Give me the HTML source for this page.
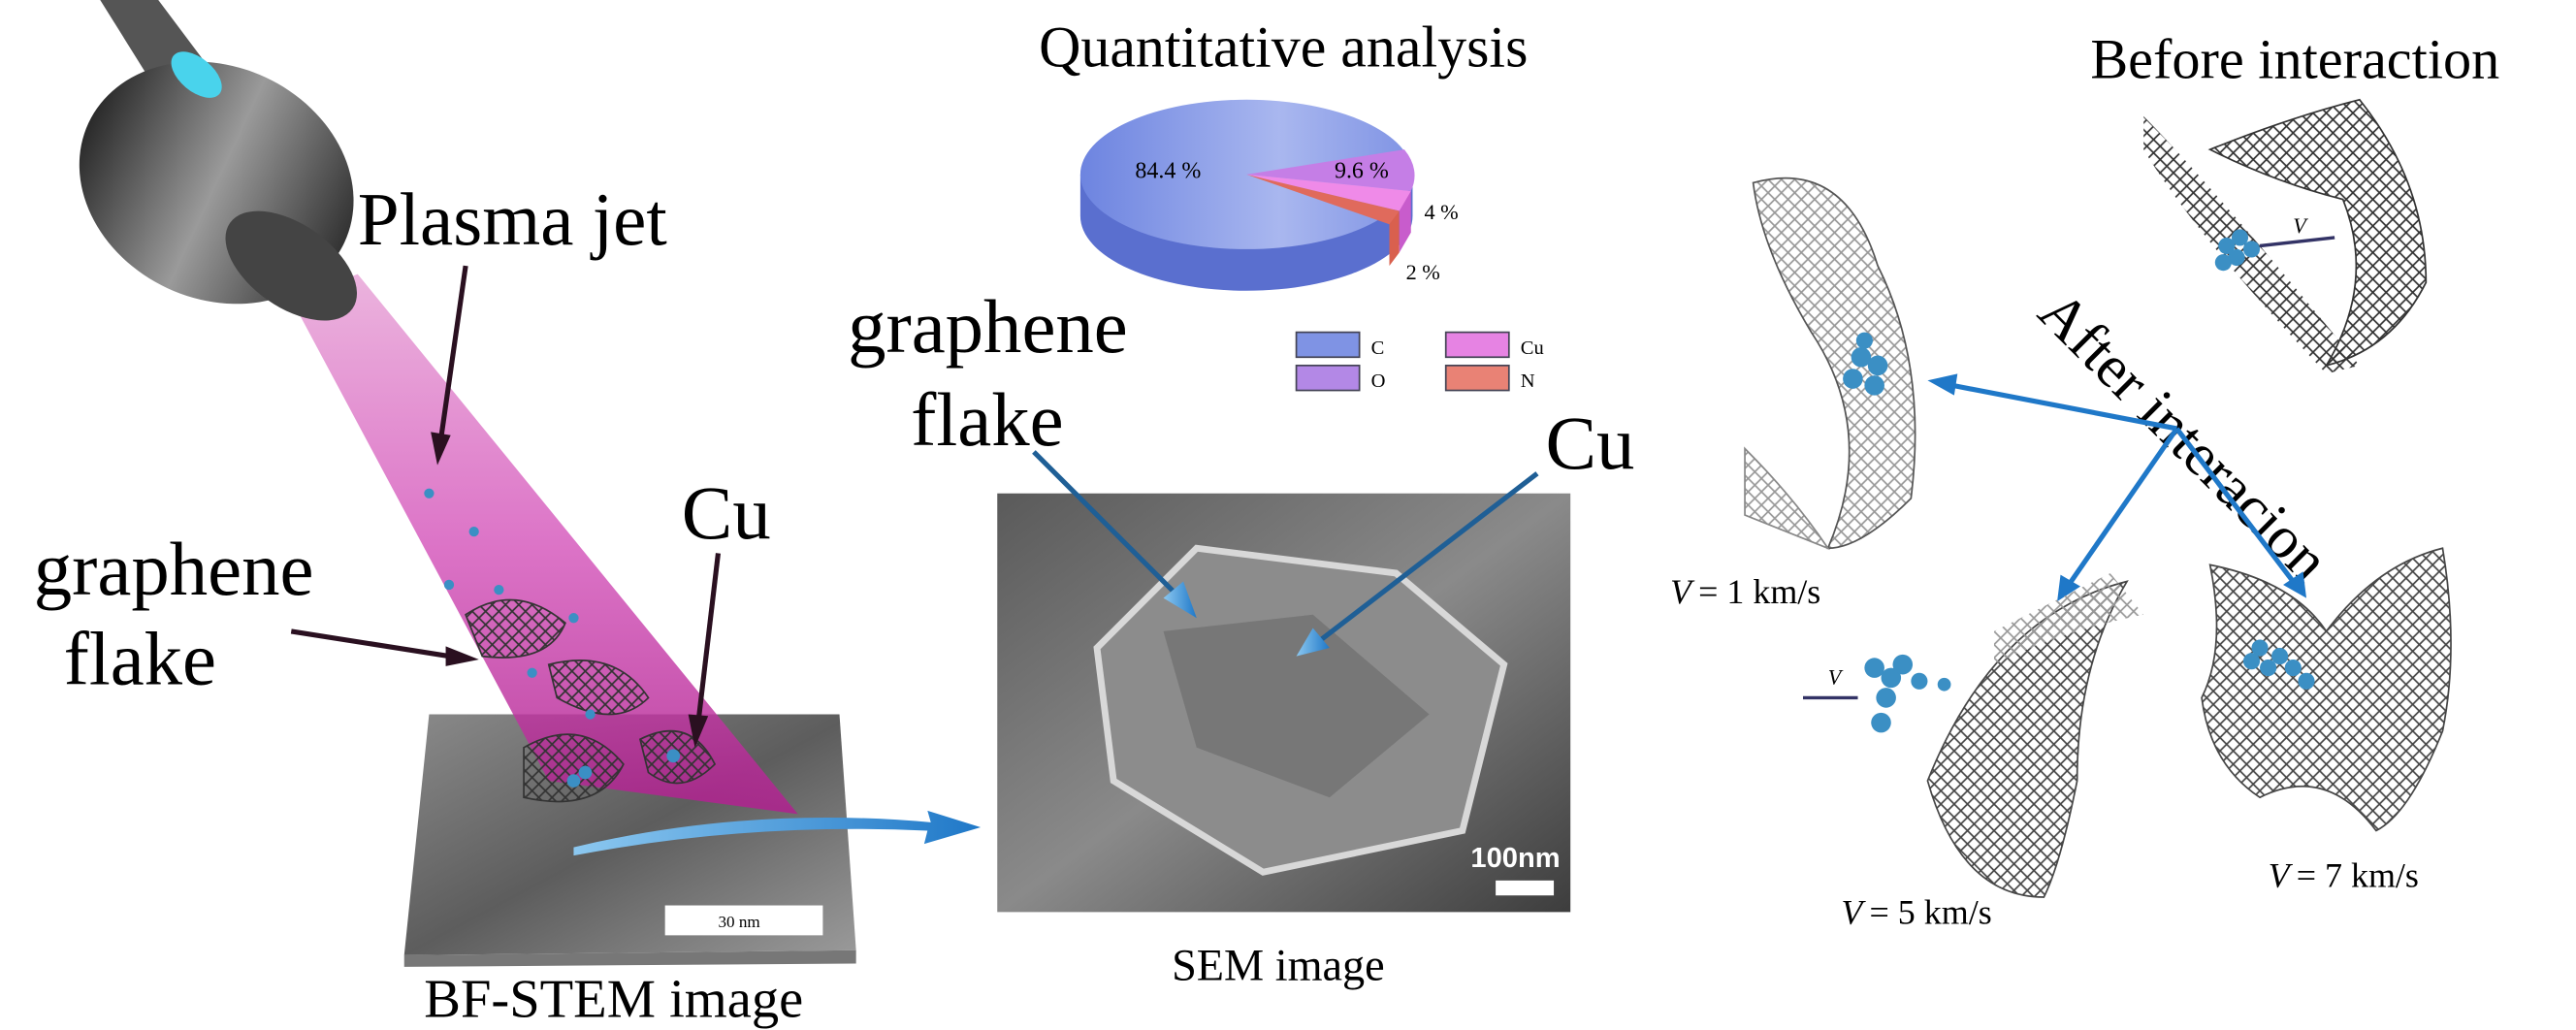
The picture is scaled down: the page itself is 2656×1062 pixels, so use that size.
<!DOCTYPE html>
<html><head><meta charset="utf-8"><style>
html,body{margin:0;padding:0;background:#fff;}
svg{display:block;}
text{font-family:"Liberation Serif",serif;}
</style></head><body>
<svg width="2656" height="1062" viewBox="0 0 1550 620" xmlns="http://www.w3.org/2000/svg">
<defs>
<linearGradient id="cone" x1="0" y1="0" x2="0" y2="1">
<stop offset="0" stop-color="#e8a6d8"/><stop offset="0.5" stop-color="#d65bbd"/><stop offset="1" stop-color="#b0208f"/></linearGradient>
<linearGradient id="torch" x1="0" y1="0" x2="1" y2="0">
<stop offset="0" stop-color="#2a2a2a"/><stop offset="0.5" stop-color="#9a9a9a"/><stop offset="1" stop-color="#333"/></linearGradient>
<linearGradient id="pie" x1="0" y1="0" x2="1" y2="0">
<stop offset="0" stop-color="#6d84e0"/><stop offset="0.6" stop-color="#a9b7ef"/><stop offset="1" stop-color="#7f93e4"/></linearGradient>
<linearGradient id="sem" x1="0" y1="0" x2="1" y2="1">
<stop offset="0" stop-color="#5a5a5a"/><stop offset="0.5" stop-color="#8a8a8a"/><stop offset="1" stop-color="#3d3d3d"/></linearGradient>
<linearGradient id="stem" x1="0" y1="0" x2="1" y2="1">
<stop offset="0" stop-color="#8a8a8a"/><stop offset="0.5" stop-color="#5d5d5d"/><stop offset="1" stop-color="#9a9a9a"/></linearGradient>
<linearGradient id="blue" x1="0" y1="0" x2="1" y2="0">
<stop offset="0" stop-color="#8cc8f0"/><stop offset="1" stop-color="#1f78c8"/></linearGradient>
<pattern id="mesh" width="8" height="8" patternUnits="userSpaceOnUse">
<path d="M0 4 L4 0 L8 4 L4 8 Z" fill="none" stroke="#333" stroke-width="1"/></pattern>
<pattern id="meshl" width="8" height="8" patternUnits="userSpaceOnUse">
<path d="M0 4 L4 0 L8 4 L4 8 Z" fill="none" stroke="#999" stroke-width="1"/></pattern>
</defs>

<!-- BF-STEM plate -->
<polygon points="258,430 505,430 515,572 243,575" fill="url(#stem)"/>
<polygon points="243,575 515,572 515,580 243,582" fill="#777"/>
<rect x="400" y="545" width="95" height="18" fill="#fff"/>
<text x="432" y="558" font-size="10">30 nm</text>
<!-- cone -->
<polygon points="175,180 215,165 480,490 330,470" fill="url(#cone)" opacity="0.85"/>
<path d="M280 370 q30 -20 60 5 q-10 25 -50 20 z" fill="url(#mesh)" stroke="#333"/>
<path d="M330 400 q40 -10 60 20 q-20 20 -55 0 z" fill="url(#mesh)" stroke="#333"/>
<path d="M315 450 q35 -20 60 10 q-15 30 -60 20 z" fill="url(#mesh)" stroke="#333"/>
<path d="M385 445 q30 -15 45 15 q-20 20 -40 5 z" fill="url(#mesh)" stroke="#333"/>
<g fill="#3b8fc4">
<circle cx="258" cy="297" r="3"/><circle cx="285" cy="320" r="3"/><circle cx="270" cy="352" r="3"/><circle cx="300" cy="355" r="3"/><circle cx="345" cy="372" r="3"/><circle cx="355" cy="430" r="3"/><circle cx="345" cy="470" r="4"/><circle cx="352" cy="465" r="4"/><circle cx="405" cy="455" r="4"/><circle cx="320" cy="405" r="3"/></g>
<!-- torch -->
<polygon points="60,0 95,0 140,60 110,80" fill="#555"/>
<ellipse cx="130" cy="110" rx="85" ry="70" fill="url(#torch)" transform="rotate(25 130 110)"/>
<ellipse cx="175" cy="160" rx="45" ry="25" fill="#444" transform="rotate(35 175 160)"/>
<ellipse cx="118" cy="45" rx="18" ry="10" fill="#49d3ec" transform="rotate(40 118 45)"/>
<path d="M345 510 Q450 485 560 495 L558 488 L590 498 L556 508 L558 500 Q450 495 345 515 Z" fill="url(#blue)"/>
<text x="215" y="147" font-size="45">Plasma jet</text>
<line x1="280" y1="160" x2="265" y2="265" stroke="#2a1020" stroke-width="3"/>
<polygon points="259,260 271,262 263,280" fill="#2a1020"/>
<text x="20" y="358" font-size="46">graphene</text>
<text x="38" y="412" font-size="46">flake</text>
<line x1="175" y1="380" x2="270" y2="395" stroke="#2a1020" stroke-width="3"/>
<polygon points="268,389 268,401 288,397" fill="#2a1020"/>
<text x="410" y="324" font-size="46">Cu</text>
<line x1="432" y1="333" x2="420" y2="435" stroke="#2a1020" stroke-width="3"/>
<polygon points="414,430 426,431 418,450" fill="#2a1020"/>
<text x="255" y="612" font-size="33">BF-STEM image</text>

<!-- pie -->
<text x="625" y="40" font-size="35">Quantitative analysis</text>
<path d="M650 105 v25 a100 45 0 0 0 200 0 v-25 z" fill="#5a6fcf"/>
<ellipse cx="750" cy="105" rx="100" ry="45" fill="url(#pie)"/>
<path d="M750 105 L845 90 A100 45 0 0 1 849 115 Z" fill="#c57ee6"/>
<path d="M750 105 L849 115 A100 45 0 0 1 842 127 Z" fill="#ef8ae8"/>
<path d="M750 105 L842 127 A100 45 0 0 1 836 135 Z" fill="#e06a5c"/>
<path d="M836 135 v25 l6 -8 v-25 z" fill="#d9604e"/>
<path d="M842 127 v25 l7 -12 v-25 z" fill="#c85ccc"/>
<text x="683" y="107" font-size="14">84.4 %</text>
<text x="803" y="107" font-size="14">9.6 %</text>
<text x="857" y="132" font-size="13">4 %</text>
<text x="846" y="168" font-size="13">2 %</text>
<rect x="780" y="200" width="38" height="15" fill="#7f93e4" stroke="#445"/>
<text x="825" y="213" font-size="12">C</text>
<rect x="780" y="220" width="38" height="15" fill="#b388e6" stroke="#445"/>
<text x="825" y="233" font-size="12">O</text>
<rect x="870" y="200" width="38" height="15" fill="#e683e3" stroke="#445"/>
<text x="915" y="213" font-size="12">Cu</text>
<rect x="870" y="220" width="38" height="15" fill="#e98275" stroke="#445"/>
<text x="915" y="233" font-size="12">N</text>

<!-- SEM -->
<rect x="600" y="297" width="345" height="252" fill="url(#sem)"/>
<path d="M660 390 L720 330 L840 345 L905 400 L880 500 L760 525 L670 470 Z" fill="#8c8c8c" stroke="#d8d8d8" stroke-width="4"/>
<path d="M700 380 L790 370 L860 430 L800 480 L720 450 Z" fill="#6e6e6e" opacity="0.7"/>
<text x="885" y="522" font-size="17" fill="#fff" font-weight="bold" style="font-family:'Liberation Sans',sans-serif">100nm</text>
<rect x="900" y="530" width="35" height="9" fill="#fff"/>
<text x="705" y="590" font-size="27">SEM image</text>
<text x="510" y="212" font-size="46">graphene</text>
<text x="548" y="268" font-size="46">flake</text>
<line x1="622" y1="272" x2="708" y2="358" stroke="#1f5f96" stroke-width="3"/>
<polygon points="700,360 712,350 720,372" fill="url(#blue)"/>
<text x="930" y="282" font-size="46">Cu</text>
<line x1="925" y1="285" x2="795" y2="385" stroke="#1f5f96" stroke-width="3"/>
<polygon points="790,378 800,390 780,395" fill="url(#blue)"/>

<!-- right -->
<text x="1258" y="47" font-size="34">Before interaction</text>
<path d="M1330 90 Q1380 70 1420 60 Q1460 110 1460 170 Q1440 210 1400 220 Q1430 170 1410 120 Q1370 110 1330 90 Z" fill="url(#mesh)" stroke="#333"/>
<path d="M1290 70 Q1330 110 1420 220 L1400 225 Q1320 140 1290 90 Z" fill="url(#mesh)"/>
<g fill="#3b8fc4"><circle cx="1340" cy="148" r="5"/><circle cx="1348" cy="143" r="5"/><circle cx="1346" cy="155" r="5"/><circle cx="1355" cy="150" r="5"/><circle cx="1338" cy="158" r="5"/></g>
<line x1="1360" y1="148" x2="1405" y2="143" stroke="#336" stroke-width="2"/>
<text x="1380" y="140" font-size="13" font-style="italic">V</text>
<text x="1225" y="190" font-size="36" transform="rotate(45 1225 190)">After interacion</text>
<g stroke="#1f78c8" stroke-width="3">
<line x1="1310" y1="258" x2="1175" y2="232"/>
<line x1="1310" y1="258" x2="1245" y2="352"/>
<line x1="1310" y1="258" x2="1380" y2="350"/>
</g>
<polygon points="1160,229 1178,225 1176,238" fill="#1f78c8"/>
<polygon points="1238,362 1240,346 1252,353" fill="#1f78c8"/>
<polygon points="1388,360 1374,352 1386,344" fill="#1f78c8"/>
<path d="M1055 110 Q1110 95 1130 160 Q1160 220 1150 300 Q1120 330 1100 330 Q1130 260 1090 200 Q1060 150 1055 110 Z" fill="url(#meshl)" stroke="#555"/>
<path d="M1050 270 Q1080 300 1100 330 L1050 310 Z" fill="url(#meshl)" stroke="#888"/>
<g fill="#3b8fc4"><circle cx="1120" cy="215" r="6"/><circle cx="1130" cy="220" r="6"/><circle cx="1115" cy="228" r="6"/><circle cx="1128" cy="232" r="6"/><circle cx="1122" cy="205" r="5"/></g>
<text x="1005" y="363" font-size="21" font-style="italic">V</text>
<text x="1022" y="363" font-size="21">=  1  km/s</text>
<path d="M1160 470 Q1200 370 1280 350 Q1250 400 1250 470 Q1240 520 1230 540 Q1180 540 1160 470 Z" fill="url(#mesh)" stroke="#333" opacity="0.9"/>
<path d="M1200 380 Q1240 360 1270 345 L1290 370 Q1240 380 1200 400 Z" fill="url(#meshl)"/>
<g fill="#3b8fc4"><circle cx="1128" cy="402" r="6"/><circle cx="1138" cy="408" r="6"/><circle cx="1145" cy="400" r="6"/><circle cx="1135" cy="420" r="6"/><circle cx="1155" cy="410" r="5"/><circle cx="1170" cy="412" r="4"/><circle cx="1132" cy="435" r="6"/></g>
<line x1="1085" y1="420" x2="1118" y2="420" stroke="#336" stroke-width="2"/>
<text x="1100" y="412" font-size="13" font-style="italic">V</text>
<text x="1108" y="556" font-size="21" font-style="italic">V</text>
<text x="1125" y="556" font-size="21">=  5  km/s</text>
<path d="M1330 340 Q1380 350 1400 380 Q1430 340 1470 330 Q1480 390 1470 440 Q1450 490 1430 500 Q1400 460 1360 480 Q1330 460 1325 420 Q1340 390 1330 340 Z" fill="url(#mesh)" stroke="#333" opacity="0.9"/>
<g fill="#3b8fc4"><circle cx="1360" cy="390" r="5"/><circle cx="1372" cy="395" r="5"/><circle cx="1380" cy="402" r="5"/><circle cx="1365" cy="402" r="5"/><circle cx="1388" cy="410" r="5"/><circle cx="1355" cy="398" r="5"/></g>
<text x="1365" y="534" font-size="21" font-style="italic">V</text>
<text x="1382" y="534" font-size="21">=  7  km/s</text>
</svg>
</body></html>
